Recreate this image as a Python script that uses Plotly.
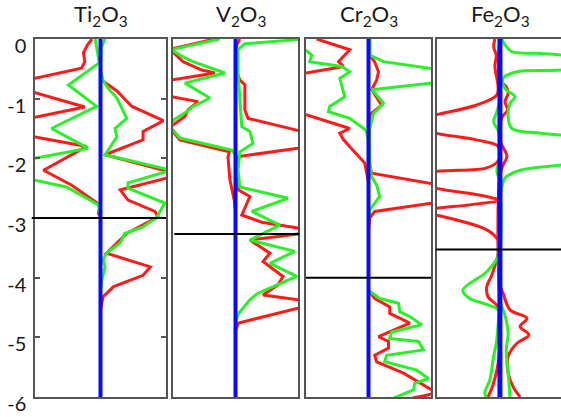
import plotly.graph_objects as go

# ---------------- data ----------------
TITLES = ["Ti<sub>2</sub>O<sub>3</sub>", "V<sub>2</sub>O<sub>3</sub>",
          "Cr<sub>2</sub>O<sub>3</sub>", "Fe<sub>2</sub>O<sub>3</sub>"]
FERMI = [-3.0, -3.27, -4.0, -3.53]
Y_TICKS = [0, -1, -2, -3, -4, -5, -6]
E_RANGE = [-6, 0]

# (energy, DOS) pairs; negative DOS drawn left of the axis
ti_red_left = [(0.00, -0.13), (-0.10, -0.20), (-0.23, -0.26), (-0.38, -0.24), (-0.49, -0.29),
               (-0.66, -1.00), (-0.76, -1.43), (-0.90, -1.00), (-1.14, -0.24), (-1.31, -1.00),
               (-1.48, -1.76), (-1.64, -1.00), (-1.80, -0.21), (-2.20, -0.87), (-2.45, -0.44),
               (-2.78, -0.01), (-2.92, -0.03), (-3.00, 0.0)]
ti_red_right = [(-0.69, 0.02), (-0.87, 0.25), (-1.13, 0.48), (-1.37, 0.96), (-1.55, 0.65),
                (-1.69, 0.65), (-1.94, 0.07), (-2.23, 1.06), (-2.33, 1.01), (-2.53, 0.30),
                (-2.70, 0.42), (-2.89, 0.83), (-2.98, 0.88), (-3.26, 0.40), (-3.59, 0.09),
                (-3.82, 0.76), (-3.96, 0.65), (-4.15, 0.20), (-4.32, 0.04), (-4.54, 0.0)]
ti_green_left = [(0.00, -0.08), (-0.18, -0.05), (-0.40, -0.02), (-0.77, -0.49), (-1.13, -0.06),
                 (-1.50, -0.75), (-1.83, -0.19), (-2.17, -1.83), (-2.48, -0.52), (-2.78, -0.03),
                 (-2.95, 0.0)]
ti_green_right = [(0.00, 0.07), (-0.15, 0.01), (-0.52, 0.0), (-0.69, 0.04), (-0.82, 0.11),
                  (-0.99, 0.25), (-1.33, 0.40), (-1.50, 0.22), (-1.64, 0.25), (-1.94, 0.07),
                  (-2.20, 1.08), (-2.41, 0.42), (-2.50, 0.42), (-2.73, 0.93), (-2.75, 0.98),
                  (-2.99, 0.86), (-3.15, 0.65), (-3.26, 0.37), (-3.42, 0.30), (-3.59, 0.09),
                  (-3.70, 0.04), (-3.82, 0.07), (-4.04, 0.02), (-4.21, 0.0)]

v_red_left = [(0.00, -0.33), (-0.17, -1.05), (-0.38, -0.84), (-0.52, -0.54), (-0.57, -0.33),
              (-0.69, -1.00), (-0.81, -1.74), (-0.97, -1.00), (-1.05, -0.60), (-1.19, -0.76),
              (-1.30, -0.81), (-1.44, -1.00), (-1.49, -1.05), (-1.69, -0.89), (-1.89, -0.10),
              (-1.98, -0.12), (-2.36, -0.09), (-2.70, -0.02), (-2.87, 0.0)]
v_green_left = [(0.00, -0.25), (-0.18, -1.03), (-0.30, -0.84), (-0.38, -0.68), (-0.57, -0.17),
                (-0.74, -0.81), (-0.99, -0.41), (-1.13, -0.68), (-1.22, -0.78), (-1.36, -1.00),
                (-1.49, -1.03), (-1.66, -0.89), (-1.86, -0.06), (-1.94, 0.0)]
v_red_right = [(0.00, 0.07), (-0.10, 0.02), (-0.52, 0.01), (-0.69, 0.07), (-0.77, 0.15),
               (-1.19, 0.15), (-1.33, 0.20), (-1.54, 1.00), (-1.72, 1.73), (-1.83, 1.00),
               (-1.97, 0.05), (-2.28, 0.01), (-2.53, 0.05), (-2.64, 0.23), (-2.95, 0.10),
               (-3.07, 0.42), (-3.17, 1.00), (-3.22, 1.11), (-3.27, 1.00), (-3.37, 0.23),
               (-3.59, 0.55), (-3.73, 0.44), (-3.98, 0.76), (-4.12, 0.68), (-4.29, 0.44),
               (-4.37, 1.00), (-4.44, 1.19), (-4.51, 1.00), (-4.76, 0.05), (-4.88, 0.0)]
v_green_right = [(0.00, 1.19), (-0.01, 1.00), (-0.08, 0.15), (-0.18, 0.04), (-0.57, 0.04),
                 (-1.02, 0.07), (-1.47, 0.10), (-1.55, 0.23), (-1.75, 0.28), (-1.89, 0.07),
                 (-2.20, 0.04), (-2.48, 0.07), (-2.67, 0.84), (-2.89, 0.26), (-3.12, 0.71),
                 (-3.37, 0.23), (-3.56, 0.95), (-3.76, 0.55), (-3.98, 0.98), (-4.26, 0.36),
                 (-4.37, 0.23), (-4.60, 0.05), (-4.74, 0.0)]

cr_red_left = [(0.00, -0.83), (-0.18, -0.30), (-0.38, -0.48), (-0.46, -0.40), (-0.57, -1.00),
               (-0.83, -2.40), (-1.27, -1.00), (-1.47, -0.40), (-1.50, -0.30), (-1.58, -0.46),
               (-1.69, -0.40), (-2.08, -0.06), (-2.25, -0.03), (-2.40, 0.0)]
cr_green_left = [(0.00, -1.40), (-0.18, -1.02), (-0.27, -0.91), (-0.38, -0.94), (-0.46, -0.43),
                 (-0.55, -0.30), (-0.66, -0.46), (-0.97, -0.38), (-1.13, -0.62), (-1.22, -0.64),
                 (-1.33, -0.30), (-1.47, -0.11), (-1.53, -0.04), (-1.69, 0.0)]
cr_red_right = [(0.00, 0.02), (-0.27, 0.02), (-0.39, 0.10), (-0.55, 0.16), (-0.69, 0.13),
                (-0.85, 0.05), (-1.11, 0.21), (-1.27, 0.02), (-1.69, 0.01), (-2.11, 0.02),
                (-2.25, 0.05), (-2.42, 0.98), (-2.60, 2.00), (-2.75, 1.01), (-2.89, 0.10),
                (-3.00, 0.02), (-3.20, 0.0), (-4.21, 0.0), (-4.35, 0.10), (-4.49, 0.34),
                (-4.60, 0.34), (-4.76, 0.66), (-4.91, 0.32), (-4.99, 0.16), (-5.07, 0.32),
                (-5.18, 0.32), (-5.30, 0.10), (-5.41, 0.13), (-5.60, 0.56), (-5.88, 1.01),
                (-5.91, 1.14), (-5.97, 0.93), (-6.02, 0.69)]
cr_green_right = [(0.00, 0.02), (-0.27, 0.02), (-0.38, 0.24), (-0.49, 0.98), (-0.63, 1.92),
                  (-0.74, 0.98), (-0.85, 0.05), (-0.94, 0.13), (-1.08, 0.24), (-1.25, 0.08),
                  (-1.53, 0.01), (-2.11, 0.02), (-2.31, 0.05), (-2.45, 0.13), (-2.64, 0.18),
                  (-2.75, 0.10), (-2.87, 0.02), (-3.03, 0.0), (-4.21, 0.0), (-4.35, 0.18),
                  (-4.43, 0.48), (-4.57, 0.50), (-4.65, 0.66), (-4.79, 0.85), (-4.91, 0.37),
                  (-5.02, 0.34), (-5.07, 0.80), (-5.21, 0.88), (-5.30, 0.29), (-5.41, 0.26),
                  (-5.55, 0.77), (-5.69, 0.96), (-5.77, 0.74), (-5.88, 0.72), (-6.02, 0.40)]

fe_red_left = [(0.00, -0.08), (-0.13, -0.10), (-0.27, -0.06), (-0.46, -0.08), (-0.80, -0.03),
               (-0.94, -0.05), (-1.11, -0.38), (-1.27, -1.02), (-1.42, -1.60), (-1.58, -1.02),
               (-1.69, -0.38), (-1.80, -0.03), (-2.03, -0.02), (-2.16, -0.21), (-2.22, -1.02),
               (-2.36, -1.60), (-2.50, -1.02), (-2.64, -0.21), (-2.70, -0.03), (-2.78, -0.48),
               (-2.84, -1.02), (-2.90, -1.30), (-2.95, -1.02), (-3.20, -0.21), (-3.37, -0.03),
               (-3.50, 0.0), (-3.62, -0.03), (-3.96, -0.13), (-4.15, -0.21), (-4.32, -0.19),
               (-4.49, -0.03), (-4.71, 0.0), (-5.38, -0.02), (-5.80, -0.11), (-6.00, -0.19)]
fe_red_right = [(0.00, 0.0), (-0.69, 0.0), (-0.80, 0.10), (-0.91, 0.13), (-1.05, 0.08),
                (-1.19, 0.12), (-1.32, 0.03), (-1.69, 0.0), (-1.97, 0.11), (-2.11, 0.05),
                (-2.28, 0.0), (-4.12, 0.0), (-4.26, 0.05), (-4.54, 0.16), (-4.68, 0.43),
                (-4.82, 0.32), (-4.96, 0.46), (-5.10, 0.27), (-5.32, 0.13), (-5.60, 0.13),
                (-5.83, 0.21), (-6.00, 0.32)]
fe_green_left = [(0.00, 0.0), (-1.02, 0.0), (-1.22, -0.05), (-1.39, -0.10), (-1.53, -0.03),
                 (-1.69, 0.0), (-2.03, 0.0), (-2.20, -0.05), (-2.40, 0.0), (-3.54, 0.0),
                 (-3.65, -0.03), (-3.90, -0.21), (-4.21, -0.59), (-4.35, -0.48), (-4.44, -0.24),
                 (-4.54, -0.03), (-4.79, -0.03), (-5.04, -0.05), (-5.38, -0.11), (-5.71, -0.16),
                 (-5.93, -0.24), (-6.02, -0.21)]
fe_green_right = [(0.00, 0.03), (-0.10, 0.08), (-0.21, 0.19), (-0.24, 0.59), (-0.27, 0.98),
                  (-0.39, 1.90), (-0.52, 0.98), (-0.55, 0.27), (-0.66, 0.05), (-0.83, 0.08),
                  (-0.97, 0.24), (-1.08, 0.16), (-1.30, 0.13), (-1.50, 0.19), (-1.58, 0.65),
                  (-1.61, 0.98), (-1.86, 2.90), (-2.11, 0.98), (-2.20, 0.32), (-2.33, 0.08),
                  (-2.48, 0.03), (-2.70, 0.0), (-4.37, 0.0), (-4.63, 0.08), (-4.93, 0.13),
                  (-5.21, 0.10), (-5.60, 0.13), (-6.00, 0.16)]

PANELS = [
    dict(red=[ti_red_left, ti_red_right], green=[ti_green_left, ti_green_right], shape="linear"),
    dict(red=[v_red_left, v_red_right], green=[v_green_left, v_green_right], shape="linear"),
    dict(red=[cr_red_left, cr_red_right], green=[cr_green_left, cr_green_right], shape="linear"),
    dict(red=[fe_red_left, fe_red_right], green=[fe_green_left, fe_green_right], shape="spline"),
]

# ---------------- layout / style ----------------
W, H = 561, 417
X_DOM = [[35 / W, 166 / W], [173 / W, 298 / W], [306 / W, 431 / W], [437 / W, 1.0]]
X_RANGE = [[-1, 1], [-1, 1], [-1, 1], [-1, 0.97]]
Y_DOM = [1 - 397 / H, 1 - 39 / H]
FERMI_SPAN = [[-0.025, 1.0], [0.01, 1.01], [0.0, 1.0], [-0.01, 1.0]]
BLUE_W = [4, 4, 4, 5]
TITLE_X = [101, 241, 369, 500]

RED = "#FF1A1A"
GREEN = "#2AF02A"
BLUE = "#0A0AF5"
FRAME = "#555555"

fig = go.Figure()
layout = dict(
    template="none",
    width=W, height=H, margin=dict(l=0, r=0, t=0, b=0, pad=0, autoexpand=False),
    paper_bgcolor="white", plot_bgcolor="white", showlegend=False,
    font=dict(family="Lato, 'Open Sans', sans-serif", color="#1a1a1a"),
)
shapes = []
annotations = []

for i, p in enumerate(PANELS):
    n = "" if i == 0 else str(i + 1)
    xa, ya = "x" + n, "y" + n
    for curve in p["red"]:
        fig.add_trace(go.Scatter(x=[v[1] for v in curve], y=[v[0] for v in curve], xaxis=xa, yaxis=ya,
                                 mode="lines", line=dict(color=RED, width=3, shape=p["shape"]),
                                 hoverinfo="skip"))
    for curve in p["green"]:
        fig.add_trace(go.Scatter(x=[v[1] for v in curve], y=[v[0] for v in curve], xaxis=xa, yaxis=ya,
                                 mode="lines", line=dict(color=GREEN, width=3, shape=p["shape"]),
                                 hoverinfo="skip"))
    fig.add_trace(go.Scatter(x=[0, 0], y=[E_RANGE[1], E_RANGE[0]], xaxis=xa, yaxis=ya, mode="lines",
                             line=dict(color=BLUE, width=BLUE_W[i]), hoverinfo="skip"))

    layout["xaxis" + n] = dict(domain=X_DOM[i], range=X_RANGE[i], anchor=ya, showgrid=False,
                               zeroline=False, showticklabels=False, ticks="", showline=True,
                               linecolor=FRAME, linewidth=1.5, mirror=True, fixedrange=True,
                               automargin=False)
    yax = dict(domain=Y_DOM, range=E_RANGE, anchor=xa, showgrid=False, zeroline=False,
               showline=True, linecolor=FRAME, linewidth=1.5, mirror=(i != 3), fixedrange=True,
               automargin=False)
    if i == 0:
        yax.update(tickvals=Y_TICKS, ticktext=[str(t) for t in Y_TICKS], ticks="inside",
                   ticklen=5, tickwidth=1.5, tickcolor=FRAME, mirror="allticks",
                   tickfont=dict(size=20, color="#1a1a1a"), ticklabelshift=7,
                   ticklabelstandoff=3)
    else:
        yax.update(showticklabels=False, ticks="")
    layout["yaxis" + n] = yax

    shapes.append(dict(type="line", xref=xa + " domain", yref=ya,
                       x0=FERMI_SPAN[i][0], x1=FERMI_SPAN[i][1], y0=FERMI[i], y1=FERMI[i],
                       line=dict(color="black", width=2)))
    annotations.append(dict(text=TITLES[i], xref="paper", yref="paper", x=TITLE_X[i] / W,
                            y=1 - 32 / H, xanchor="center", yanchor="bottom", showarrow=False,
                            font=dict(size=22, color="#1a1a1a")))

layout["shapes"] = shapes
layout["annotations"] = annotations
fig.update_layout(**layout)
fig.write_html("out.html")
